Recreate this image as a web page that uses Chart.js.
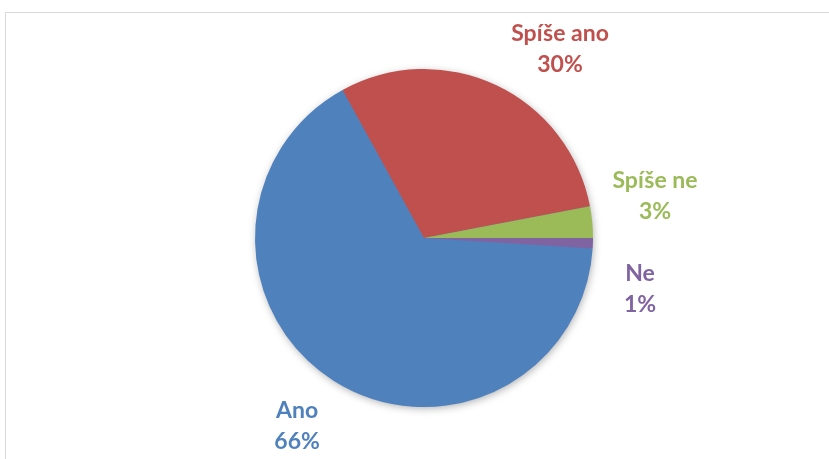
<!DOCTYPE html>
<html>
<head>
<meta charset="utf-8">
<script src="https://cdn.jsdelivr.net/npm/chart.js@4/dist/chart.umd.min.js"></script>
<style>
  html, body { margin: 0; padding: 0; background: #fff; }
  #wrap { width: 829px; height: 459px; position: relative; }
</style>
</head>
<body>
<div id="wrap"><canvas id="pie" width="829" height="459"></canvas></div>
<script>
const categories = ["Ano", "Spíše ano", "Spíše ne", "Ne"];
const values = [66, 30, 3, 1];
const colors = ["#4F81BD", "#C0504D", "#9BBB59", "#8064A2"];

// label placement, in multiples of the pie radius from its centre
const labelOffsets = [[-0.751, 1.107], [0.805, -1.118], [1.367, -0.249], [1.278, 0.302]];

const framePlugin = {
  id: "frame",
  beforeDraw(chart) {
    const ctx = chart.ctx;
    ctx.save();
    ctx.strokeStyle = "#d9d9d9";
    ctx.lineWidth = 1;
    ctx.strokeRect(5.5, 12.5, 900, 600);
    ctx.restore();
  }
};

const shadowPlugin = {
  id: "shadow",
  beforeDatasetsDraw(chart) {
    const arc = chart.getDatasetMeta(0).data[0];
    if (!arc) return;
    const ctx = chart.ctx;
    ctx.save();
    ctx.shadowColor = "rgba(0,0,0,0.35)";
    ctx.shadowBlur = 9;
    ctx.shadowOffsetX = 1;
    ctx.shadowOffsetY = 2;
    ctx.fillStyle = "#4F81BD";
    ctx.beginPath();
    ctx.arc(arc.x, arc.y, arc.outerRadius - 1, 0, Math.PI * 2);
    ctx.fill();
    ctx.restore();
  }
};

const labelPlugin = {
  id: "pieLabels",
  afterDatasetsDraw(chart) {
    const ctx = chart.ctx;
    const meta = chart.getDatasetMeta(0);
    ctx.save();
    ctx.font = "bold 23px Lato, 'Open Sans', sans-serif";
    ctx.textAlign = "center";
    ctx.textBaseline = "middle";
    meta.data.forEach((arc, i) => {
      const r = arc.outerRadius;
      const x = arc.x + labelOffsets[i][0] * r;
      const y = arc.y + labelOffsets[i][1] * r;
      ctx.fillStyle = colors[i];
      ctx.fillText(categories[i], x, y - 15);
      ctx.fillText(values[i] + "%", x, y + 16);
    });
    ctx.restore();
  }
};

new Chart(document.getElementById("pie").getContext("2d"), {
  type: "pie",
  data: {
    labels: categories,
    datasets: [{
      data: values,
      backgroundColor: colors,
      borderWidth: 0
    }]
  },
  options: {
    responsive: false,
    animation: false,
    rotation: 93.6,
    layout: { padding: { left: 19, right: 0, top: 69, bottom: 52 } },
    plugins: {
      legend: { display: false },
      tooltip: { enabled: false }
    }
  },
  plugins: [framePlugin, shadowPlugin, labelPlugin]
});
</script>
</body>
</html>
